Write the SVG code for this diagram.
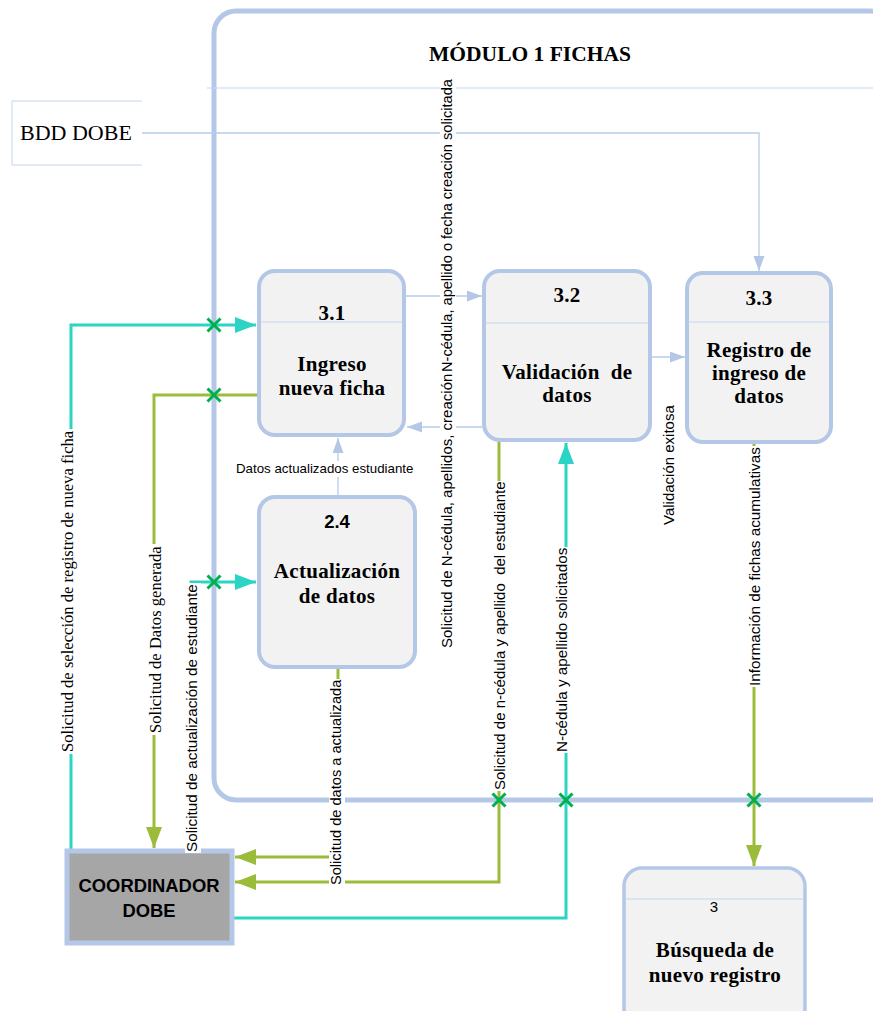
<svg xmlns="http://www.w3.org/2000/svg" width="873" height="1011" viewBox="0 0 873 1011">
<style>
.frame{fill:none;stroke:#b4c7e7;stroke-width:5}
.node{fill:#f2f2f2;stroke:#b4c7e7;stroke-width:4}
.div{stroke:#c5d4ef;stroke-width:1;fill:none}
.thin{fill:none;stroke:#b9cbea;stroke-width:1.3}
.cyan{fill:none;stroke:#2bd4c4;stroke-width:3}
.olive{fill:none;stroke:#9bbb3b;stroke-width:3}
.xm{stroke:#00b050;stroke-width:3;fill:none}
.t{font-family:"Liberation Serif","Times New Roman",serif;font-weight:bold;font-size:21px;fill:#000;text-anchor:middle;letter-spacing:0.3px}
.lbl{font-family:"Liberation Sans",Arial,sans-serif;font-size:15px;fill:#000}
.lbls{font-family:"Liberation Serif","Times New Roman",serif;font-size:16.6px;fill:#000}
.bg{fill:#fff}
</style>
<defs>
<marker id="ac" markerUnits="userSpaceOnUse" markerWidth="22" markerHeight="17" refX="21" refY="8" orient="auto"><path d="M0,0 L21,8 L0,16 Z" fill="#2bd4c4"/></marker>
<marker id="ao" markerUnits="userSpaceOnUse" markerWidth="22" markerHeight="17" refX="21" refY="8" orient="auto"><path d="M0,0 L21,8 L0,16 Z" fill="#9bbb3b"/></marker>
<marker id="at" markerUnits="userSpaceOnUse" markerWidth="16" markerHeight="12" refX="15" refY="5.5" orient="auto"><path d="M0,0 L15,5.5 L0,11 Z" fill="#b4c7e7"/></marker>
<path id="x" d="M-6.5,-6.5 L6.5,6.5 M-6.5,6.5 L6.5,-6.5"/>
</defs>

<g id="module">
<rect class="frame" x="214" y="11" width="678" height="789" rx="22"/>
<line class="div" x1="207" y1="88" x2="873" y2="88"/>
<text class="t" x="530" y="61" style="font-size:21.5px;letter-spacing:0">MÓDULO 1 FICHAS</text>
</g>

<g id="bdd">
<path d="M142,101 H12 V165 H142" fill="none" stroke="#c5d4ef" stroke-width="1"/>
<text x="20" y="140" style="font-family:'Liberation Serif','Times New Roman',serif;font-size:22px;fill:#000">BDD DOBE</text>
</g>

<g id="connectors">
<path class="thin" d="M142,133 H759 V271" marker-end="url(#at)"/>
<path class="cyan" d="M71,849 V325 H256" marker-end="url(#ac)"/>
<path class="olive" d="M257,395 H154 V848" marker-end="url(#ao)"/>
<path class="cyan" d="M191,849 V582 H256" marker-end="url(#ac)"/>
<path class="thin" d="M338,495 V438" marker-end="url(#at)"/>
<path class="olive" d="M338,669 V857 H235" marker-end="url(#ao)"/>
<path class="olive" d="M499,442 V882 H235" marker-end="url(#ao)"/>
<path class="cyan" d="M234,918 H566 V443" marker-end="url(#ac)"/>
<path class="thin" d="M406,296 H482" marker-end="url(#at)"/>
<path class="thin" d="M482,427 H407" marker-end="url(#at)"/>
<path class="thin" d="M652,357 H685" marker-end="url(#at)"/>
<path class="olive" d="M754,444 V866" marker-end="url(#ao)"/>
</g>

<g id="n31">
<rect class="node" x="259" y="271" width="145" height="164" rx="16"/>
<line class="div" x1="261" y1="322" x2="402" y2="322"/>
<text class="t" x="332" y="320">3.1</text>
<text class="t" x="332" y="371">Ingreso</text>
<text class="t" x="332" y="395">nueva ficha</text>
</g>

<g id="n32">
<rect class="node" x="484" y="271" width="166" height="169" rx="16"/>
<line class="div" x1="486" y1="323" x2="648" y2="323"/>
<text class="t" x="567" y="302">3.2</text>
<text class="t" x="567" y="379" xml:space="preserve">Validación  de</text>
<text class="t" x="567" y="402">datos</text>
</g>

<g id="n33">
<rect class="node" x="687" y="273" width="144" height="169" rx="16"/>
<line class="div" x1="689" y1="322" x2="829" y2="322"/>
<text class="t" x="759" y="305">3.3</text>
<text class="t" x="759" y="357">Registro de</text>
<text class="t" x="759" y="380">ingreso de</text>
<text class="t" x="759" y="403">datos</text>
</g>

<g id="n24">
<rect class="node" x="259" y="497" width="156" height="170" rx="16"/>
<text x="337" y="528" style="font-family:'Liberation Sans',Arial,sans-serif;font-weight:bold;font-size:18.5px;text-anchor:middle;fill:#000">2.4</text>
<text class="t" x="337" y="578">Actualización</text>
<text class="t" x="337" y="603">de datos</text>
</g>

<g id="n3">
<rect class="node" x="624" y="868" width="181" height="170" rx="18" style="stroke-width:3.5"/>
<line class="div" x1="626" y1="899" x2="803" y2="899"/>
<text x="714" y="912" style="font-family:'Liberation Sans',Arial,sans-serif;font-size:15px;text-anchor:middle;fill:#000">3</text>
<text class="t" x="715" y="957">Búsqueda de</text>
<text class="t" x="715" y="982">nuevo registro</text>
</g>

<g id="coordinador">
<rect x="67" y="851" width="165" height="92" fill="#a6a6a6" stroke="#b4c7e7" stroke-width="5"/>
<text x="149" y="892" style="font-family:'Liberation Sans',Arial,sans-serif;font-weight:bold;font-size:18.4px;text-anchor:middle;fill:#000">COORDINADOR</text>
<text x="149" y="917" style="font-family:'Liberation Sans',Arial,sans-serif;font-weight:bold;font-size:18.4px;text-anchor:middle;fill:#000">DOBE</text>
</g>

<g id="labels">
<g transform="translate(73,752) rotate(-90)"><rect class="bg" x="-2" y="-13" width="325" height="17"/><text class="lbls">Solicitud de selección de registro de nueva ficha</text></g>
<g transform="translate(161,733) rotate(-90)"><rect class="bg" x="-2" y="-13" width="191" height="17"/><text class="lbls">Solicitud de Datos generada</text></g>
<g transform="translate(197,852) rotate(-90)"><rect class="bg" x="-1" y="-12" width="270" height="16"/><text class="lbl" style="font-size:15.3px">Solicitud de actualización de estudiante</text></g>
<g transform="translate(341,885) rotate(-90)"><rect class="bg" x="-1" y="-12" width="207" height="16"/><text class="lbl" style="font-size:14.6px">Solicitud de datos a actualizada</text></g>
<g transform="translate(452,372) rotate(-90)"><rect class="bg" x="-1" y="-12" width="295" height="16"/><text class="lbl" style="font-size:14.6px">N-cédula, apellido o fecha creación solicitada</text></g>
<g transform="translate(452,648) rotate(-90)"><rect class="bg" x="-1" y="-12" width="275" height="16"/><text class="lbl">Solicitud de N-cédula, apellidos, creación</text></g>
<g transform="translate(505,790) rotate(-90)"><rect class="bg" x="-1" y="-12" width="310" height="16"/><text class="lbl" xml:space="preserve">Solicitud de n-cédula y apellido  del estudiante</text></g>
<g transform="translate(567,752) rotate(-90)"><rect class="bg" x="-1" y="-12" width="206" height="16"/><text class="lbl" style="font-size:15.2px">N-cédula y apellido solicitados</text></g>
<g transform="translate(674,525) rotate(-90)"><text class="lbl">Validación exitosa</text></g>
<g transform="translate(760,686) rotate(-90)"><rect class="bg" x="-1" y="-12" width="241" height="16"/><text class="lbl" style="font-size:15.3px">Información de fichas acumulativas</text></g>
<rect class="bg" x="234" y="461" width="181" height="16"/>
<text class="lbl" x="236" y="473" style="font-size:13.3px">Datos actualizados estudiante</text>
</g>

<g id="crossings" class="xm">
<use href="#x" x="214" y="325"/>
<use href="#x" x="214" y="395"/>
<use href="#x" x="214" y="582"/>
<use href="#x" x="499" y="800"/>
<use href="#x" x="566" y="800"/>
<use href="#x" x="754" y="800"/>
</g>
</svg>
